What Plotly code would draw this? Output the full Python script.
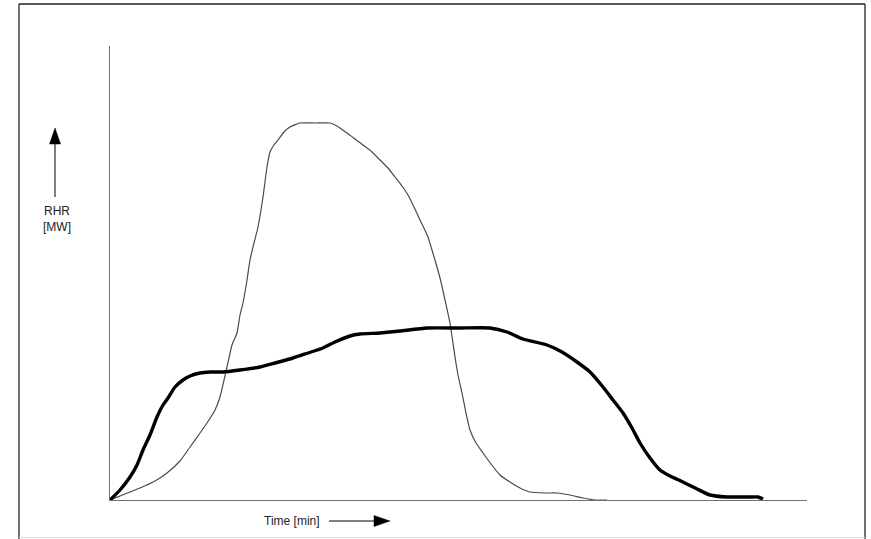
import plotly.graph_objects as go

W, H = 871, 539

# Thin curve (sharp peak) - time [min] and RHR [MW] in arbitrary chart units
thin_time = [0.0, 1.5, 3.0, 4.5, 5.7, 7.0, 8.0, 9.0, 9.7, 10.5, 11.0, 11.7, 12.2, 12.7, 13.0, 13.3,
             13.7, 14.0, 14.4, 14.8, 15.3, 15.7, 16.0, 16.4, 16.8, 17.4, 18.0, 19.0, 20.5, 22.0,
             22.7, 23.7, 24.5, 25.3, 26.2, 27.0, 27.8, 28.5, 29.2, 29.8, 30.4, 31.0, 31.8, 32.2,
             32.7, 33.1, 33.5, 34.0, 34.5, 34.8, 35.2, 35.6, 36.0, 36.6, 37.3, 38.1, 39.0, 40.0,
             41.0, 42.0, 43.5, 44.7, 46.0, 47.3, 48.5, 49.7]
thin_rhr = [0.0, 0.6, 1.2, 1.9, 2.7, 3.9, 5.3, 6.7, 7.7, 9.0, 10.3, 13.3, 15.5, 16.7, 18.5, 19.7,
            22.0, 24.0, 25.7, 27.3, 30.3, 33.3, 34.8, 35.5, 36.0, 36.8, 37.3, 37.7, 37.7, 37.7,
            37.4, 36.7, 36.1, 35.5, 34.8, 34.0, 33.2, 32.3, 31.4, 30.5, 29.3, 28.0, 26.3, 25.0,
            23.3, 21.8, 20.0, 17.7, 14.3, 12.5, 10.7, 8.7, 7.0, 5.7, 4.7, 3.6, 2.5, 1.8,
            1.2, 0.8, 0.7, 0.7, 0.5, 0.2, 0.0, 0.0]

# Thick curve (long plateau)
thick_time = [0.0, 1.0, 2.0, 2.7, 3.3, 4.0, 4.7, 5.3, 5.8, 6.5, 7.3, 8.0, 9.0, 10.0, 11.3, 13.0,
              15.0, 16.5, 18.3, 19.8, 21.3, 22.5, 24.0, 25.0, 27.0, 29.0, 31.7, 35.0, 38.0, 39.7,
              41.3, 43.7, 45.2, 46.7, 48.0, 49.3, 50.3, 51.3, 52.2, 53.0, 54.0, 55.0, 56.0, 57.3,
              58.7, 60.0, 61.7, 63.0, 64.0, 64.8, 65.3]
thick_rhr = [0.0, 1.0, 2.3, 3.5, 5.0, 6.5, 8.3, 9.5, 10.2, 11.3, 12.0, 12.4, 12.7, 12.8, 12.8, 13.0,
             13.3, 13.7, 14.2, 14.7, 15.2, 15.8, 16.4, 16.6, 16.7, 16.9, 17.2, 17.2, 17.2, 16.8,
             16.1, 15.5, 14.8, 13.8, 12.8, 11.3, 10.0, 8.7, 7.2, 5.7, 4.2, 3.0, 2.4, 1.8,
             1.1, 0.5, 0.3, 0.3, 0.3, 0.3, 0.1]

x_label = "Time [min]"
y_label = "RHR<br>[MW]"


def px(x):
    return x / W


def py(y):
    return 1 - y / H


fig = go.Figure()
fig.add_trace(go.Scatter(x=thin_time, y=thin_rhr, mode="lines",
                         line=dict(color="#4a4a4a", width=1.2, shape="spline", smoothing=0.5),
                         cliponaxis=False, showlegend=False, hoverinfo="skip"))
fig.add_trace(go.Scatter(x=thick_time, y=thick_rhr, mode="lines",
                         line=dict(color="#000000", width=3.4, shape="spline", smoothing=0.5),
                         cliponaxis=False, showlegend=False, hoverinfo="skip"))

axis_common = dict(showgrid=False, zeroline=False, showticklabels=False, ticks="",
                   showline=True, linecolor="#707070", linewidth=1.3, fixedrange=True)

fig.update_layout(
    width=W, height=H,
    margin=dict(l=0, r=0, t=0, b=0),
    paper_bgcolor="white", plot_bgcolor="white",
    xaxis=dict(domain=[px(110), px(807)], range=[0, 69.7], **axis_common),
    yaxis=dict(domain=[py(500), py(46)], range=[0, 45.4], **axis_common),
    font=dict(family="Liberation Sans, Arial, sans-serif", size=12, color="#000"),
)

# Outer frame
shapes = [
    dict(type="line", xref="paper", yref="paper", x0=px(19), x1=px(19), y0=py(4), y1=py(539),
         line=dict(color="#222", width=1.3)),
    dict(type="line", xref="paper", yref="paper", x0=px(19), x1=px(865), y0=py(4), y1=py(4),
         line=dict(color="#222", width=1.3)),
    dict(type="line", xref="paper", yref="paper", x0=px(865), x1=px(865), y0=py(4), y1=py(539),
         line=dict(color="#222", width=1.3)),
    dict(type="line", xref="paper", yref="paper", x0=px(19), x1=px(865), y0=py(537.5), y1=py(537.5),
         line=dict(color="#dcdcdc", width=1)),
    # Up arrow (y direction)
    dict(type="line", xref="paper", yref="paper", x0=px(55), x1=px(55), y0=py(197), y1=py(140),
         line=dict(color="#000", width=1)),
    dict(type="path", xref="paper", yref="paper",
         path=f"M {px(55)} {py(128)} L {px(49.5)} {py(144)} L {px(60.5)} {py(144)} Z",
         fillcolor="#000", line=dict(color="#000", width=0.5)),
    # Right arrow (x direction)
    dict(type="line", xref="paper", yref="paper", x0=px(329), x1=px(376), y0=py(521), y1=py(521),
         line=dict(color="#000", width=1)),
    dict(type="path", xref="paper", yref="paper",
         path=f"M {px(390)} {py(521)} L {px(374)} {py(515.5)} L {px(374)} {py(526.5)} Z",
         fillcolor="#000", line=dict(color="#000", width=0.5)),
]
fig.update_layout(shapes=shapes)

fig.add_annotation(xref="paper", yref="paper", x=px(57), y=py(219), text=y_label,
                   showarrow=False, xanchor="center", yanchor="middle", align="center",
                   font=dict(size=12, color="#222"))
fig.add_annotation(xref="paper", yref="paper", x=px(292), y=py(521), text=x_label,
                   showarrow=False, xanchor="center", yanchor="middle",
                   font=dict(size=12, color="#222"))

fig.write_html("out.html", config={"displayModeBar": False})

# Remove default page margin so the figure fills the window exactly
with open("out.html", "r", encoding="utf-8") as f:
    html = f.read()
html = html.replace("<body>", '<body style="margin:0;padding:0;overflow:hidden">', 1)
with open("out.html", "w", encoding="utf-8") as f:
    f.write(html)
